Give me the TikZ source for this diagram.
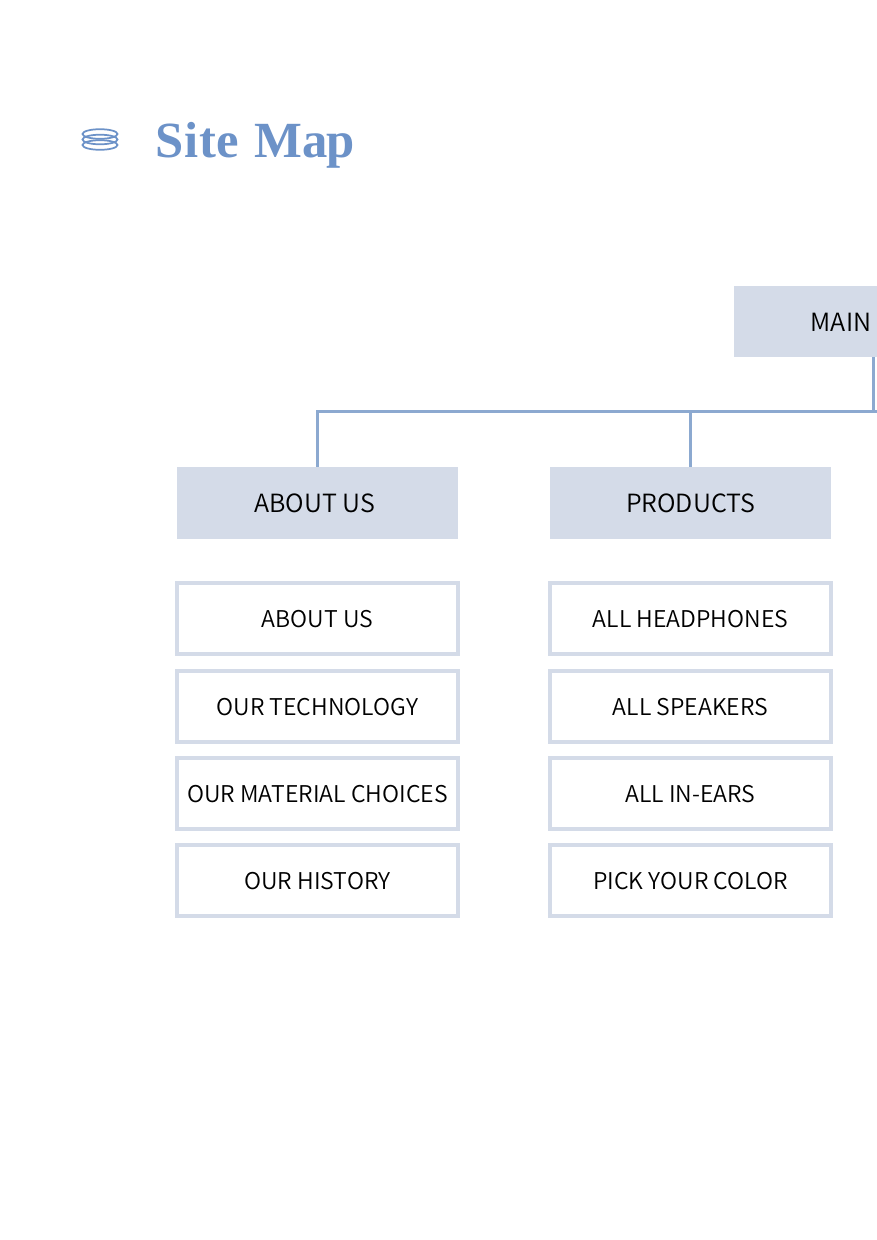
\documentclass[tikz,border=0pt]{standalone}
\usepackage{fontspec}
\setmainfont{Noto Sans CJK JP DemiLight}
\newfontfamily\titlefont{Liberation Serif}[LetterSpace=1.3]
\definecolor{boxfill}{HTML}{D4DBE8}
\definecolor{linkline}{HTML}{8CA9D0}
\definecolor{titleblue}{HTML}{6C92C8}
\tikzset{
  px/.style={x=0.75pt,y=-0.75pt},
  head/.style={fill=boxfill,draw=none,minimum width=210.75pt,minimum height=54pt,inner sep=0pt,anchor=center,text height=13.5pt,text depth=0pt,font=\fontsize{18.8pt}{22pt}\selectfont,text=black},
  page/.style={fill=white,draw=boxfill,line width=3pt,minimum width=210.75pt,minimum height=53.25pt,inner sep=0pt,anchor=center,text height=14.2pt,text depth=0pt,font=\fontsize{17.3pt}{20pt}\selectfont,text=black},
  link/.style={draw=linkline,line width=2.25pt},
  ring/.style={draw=titleblue,line width=1.3pt}
}
\begin{document}
\begin{tikzpicture}[px]
\useasboundingbox (0,0) rectangle (877,1240);
\clip (0,0) rectangle (877,1240);
\fill[white] (0,0) rectangle (877,1240);
% icon
\foreach \cy in {134,139.5,145}{\draw[ring] (100,\cy) ellipse [x radius=17.5,y radius=4.8];}
\node[anchor=base west,inner sep=0pt,text=titleblue,font=\fontsize{38pt}{42pt}\selectfont\titlefont\bfseries] (title) at (155.5,157.5) {Site\kern1.5pt{} {\addfontfeature{LetterSpace=-1}Map}};
% main
\node[head,minimum height=53.6pt] (main) at (874.5,321.75) {};
\node[anchor=base east,inner sep=0pt,font=\fontsize{18.8pt}{22pt}\selectfont] (mainlabel) at (871.5,331) {MAIN};
\node[head] (about) at (317.5,503) {ABOUT US\kern 4pt};
\node[head] (products) at (690.5,503) {PRODUCTS};
\coordinate (busR) at (873.5,411);
\coordinate (busA) at (317.5,411);
\coordinate (busP) at (690.5,411);
\draw[link] (873.5,357) -- (busR);
\draw[link] (878,411) -- (busA) -- (about.north);
\draw[link] (busP) -- (products.north);
% sub pages
\node[page] (a1) at (317.5,618.25) {ABOUT US};
\node[page] (a2) at (317.5,706) {OUR TECHNOLOGY};
\node[page] (a3) at (317.5,793.5) {OUR MATERIAL CHOICES};
\node[page] (a4) at (317.5,880.5) {OUR HISTORY};
\node[page] (p1) at (690.5,618.25) {ALL HEADPHONES};
\node[page] (p2) at (690.5,706) {ALL SPEAKERS};
\node[page] (p3) at (690.5,793.5) {ALL IN-EARS};
\node[page] (p4) at (690.5,880.5) {PICK YOUR COLOR};
\end{tikzpicture}
\end{document}
